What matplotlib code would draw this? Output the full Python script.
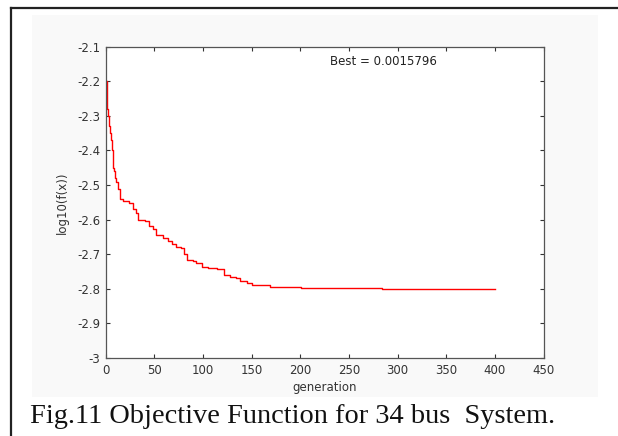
import matplotlib.pyplot as plt
from matplotlib.patches import Rectangle
from matplotlib.lines import Line2D

# best objective per generation (log10)
generation = [0, 1, 2, 3, 4, 5, 6, 7, 8, 9, 10, 11, 13, 15, 18, 24, 28, 31, 33,
              40, 44, 49, 52, 59, 64, 68, 72, 77, 80, 84, 90, 93, 99, 105, 114,
              121, 122, 128, 134, 138, 145, 150, 155, 169, 201, 284, 400]
log_best = [-2.20, -2.28, -2.30, -2.33, -2.35, -2.37, -2.40, -2.43, -2.45, -2.46,
            -2.48, -2.49, -2.51, -2.54, -2.547, -2.553, -2.57, -2.58, -2.601,
            -2.604, -2.618, -2.628, -2.643, -2.653, -2.663, -2.67, -2.68, -2.683,
            -2.70, -2.716, -2.719, -2.726, -2.736, -2.740, -2.742, -2.744, -2.761,
            -2.765, -2.768, -2.778, -2.782, -2.788, -2.790, -2.794, -2.797,
            -2.801, -2.801]

xticks = [0, 50, 100, 150, 200, 250, 300, 350, 400, 450]
yticks = [-3, -2.9, -2.8, -2.7, -2.6, -2.5, -2.4, -2.3, -2.2, -2.1]
ytick_labels = ['-3', '-2.9', '-2.8', '-2.7', '-2.6', '-2.5', '-2.4', '-2.3', '-2.2', '-2.1']
best_text = 'Best = 0.0015796'
caption = 'Fig.11 Objective Function for 34 bus  System.'

plt.rcParams['font.family'] = 'DejaVu Sans'
fs = 8.5

fig = plt.figure(figsize=(6.18, 4.36), dpi=100)
fig.patch.set_facecolor('white')

# faint grey matlab figure background and the page frame
fig.patches.append(Rectangle((32/618, 1-397/436), 566/618, 382/436,
                             transform=fig.transFigure, facecolor='#f9f9f9',
                             edgecolor='none', zorder=-5))
fig.lines.append(Line2D([11/618, 1.0], [1-8.5/436, 1-8.5/436], transform=fig.transFigure,
                        color='#222222', lw=1.6))
fig.lines.append(Line2D([11/618, 11/618], [0, 1-8.5/436], transform=fig.transFigure,
                        color='#222222', lw=1.6))

ax = fig.add_axes([105.7/618, 1-358/436, (543.6-105.7)/618, (358-46.7)/436])
ax.set_zorder(2)
ax.set_facecolor('white')
ax.plot(generation, log_best, color='red', lw=1.0, drawstyle='steps-post')

ax.set_xlim(0, 450)
ax.set_ylim(-3, -2.1)
ax.set_xticks(xticks)
ax.set_yticks(yticks)
ax.set_yticklabels(ytick_labels)
ax.tick_params(direction='in', length=3, width=0.8, colors='#333333', labelsize=fs,
               top=True, right=True)
ax.tick_params(axis='x', pad=4)
ax.tick_params(axis='y', pad=4)
for s in ax.spines.values():
    s.set_color('#555555')
    s.set_linewidth(0.9)

ax.set_xlabel('generation', fontsize=fs, color='#333333', labelpad=3)
ax.set_ylabel('log10(f(x))', fontsize=fs, color='#333333', labelpad=6)
ax.text(285, -2.144, best_text, fontsize=fs, color='#222222', ha='center', va='center')

fig.text(30/618, 1-416/436, caption, family='Liberation Serif', fontsize=20.4,
         color='#111111', ha='left', va='center')

fig.savefig('out.png', dpi=100)
